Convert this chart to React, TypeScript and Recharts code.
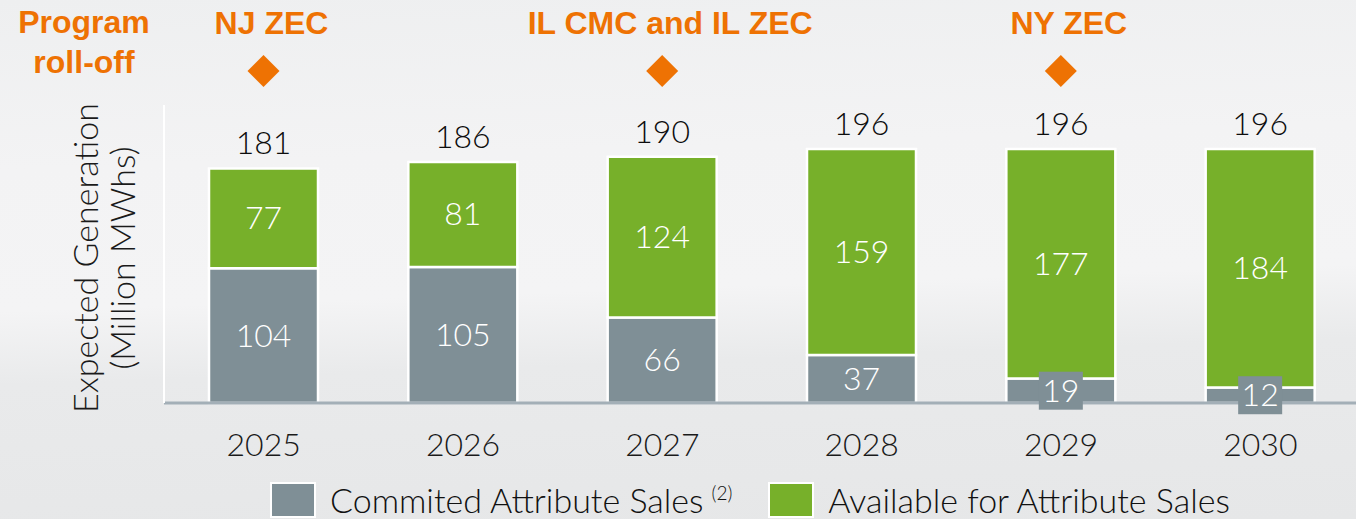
import { BarChart, Bar, XAxis, YAxis, LabelList } from "recharts";

const years = ["2025", "2026", "2027", "2028", "2029", "2030"];
const committed = [104, 105, 66, 37, 19, 12];
const available = [77, 81, 124, 159, 177, 184];
const programs = ["NJ ZEC", "", "IL CMC and IL ZEC", "", "NY ZEC", ""];

const GRAY = "#7f8f96";
const GREEN = "#77b02a";
const ORANGE = "#ee7203";
const FONT = "Lato, 'Open Sans', sans-serif";

const data = years.map((year, i) => ({
  year,
  committed: committed[i],
  available: available[i],
}));

function InsideLabel(props: any) {
  const { x, y, width, height, value } = props;
  const cx = x + width / 2;
  const cy = y + height / 2;
  const small = height < 40;
  return (
    <g>
      {small && (
        <rect x={cx - 22} y={cy - 19} width={44} height={38} fill={GRAY} />
      )}
      <text
        x={cx}
        y={cy + 11}
        textAnchor="middle"
        fill="#ffffff"
        fontSize={32}
        fontWeight={300}
        fontFamily={FONT}
      >
        {value}
      </text>
    </g>
  );
}

function TotalLabel(props: any) {
  const { x, y, width, index } = props;
  const total = committed[index] + available[index];
  return (
    <text
      x={x + width / 2}
      y={y - 14}
      textAnchor="middle"
      fill="#0d0d0d"
      fontSize={32}
      fontWeight={300}
      fontFamily={FONT}
    >
      {total}
    </text>
  );
}

function ProgramLabel(props: any) {
  const { x, width, index } = props;
  const name = programs[index];
  if (!name) return null;
  const cx = x + width / 2;
  return (
    <g>
      <text
        x={cx + 8}
        y={34}
        textAnchor="middle"
        fill={ORANGE}
        fontSize={32}
        fontWeight={700}
        fontFamily="'Liberation Sans', Arial, sans-serif"
      >
        {name}
      </text>
      <polygon
        points={`${cx},${55} ${cx + 16},${71} ${cx},${87} ${cx - 16},${71}`}
        fill={ORANGE}
      />
    </g>
  );
}

function YearTick(props: any) {
  const { x, payload } = props;
  return (
    <text
      x={x}
      y={456}
      textAnchor="middle"
      fill="#1a1a1a"
      fontSize={32}
      fontWeight={300}
      fontFamily={FONT}
    >
      {payload.value}
    </text>
  );
}

function YLabel(props: any) {
  const cy = props.viewBox ? props.viewBox.y + props.viewBox.height / 2 + 4 : 258;
  return (
    <g fill="#1a1a1a" fontSize={34} fontWeight={300} fontFamily={FONT}>
      <text x={84} y={cy} textAnchor="middle" dominantBaseline="central" transform={`rotate(-90 84 ${cy})`}>
        Expected Generation
      </text>
      <text x={121} y={cy} textAnchor="middle" dominantBaseline="central" transform={`rotate(-90 121 ${cy})`}>
        (Million MWhs)
      </text>
    </g>
  );
}

function LegendItem({ color, label, sup, gap }: { color: string; label: string; sup?: string; gap: number }) {
  return (
    <div style={{ display: "flex", alignItems: "center", marginRight: gap }}>
      <div
        style={{
          width: 42,
          height: 32,
          background: color,
          border: "2px solid #ffffff",
          marginRight: 14,
        }}
      />
      <span
        style={{
          fontSize: 34,
          lineHeight: "34px",
          fontWeight: 300,
          color: "#111111",
          fontFamily: FONT,
          whiteSpace: "nowrap",
        }}
      >
        {label}
        {sup && (
          <sup style={{ fontSize: 19, marginLeft: 8, verticalAlign: "13px", lineHeight: "19px" }}>
            {sup}
          </sup>
        )}
      </span>
    </div>
  );
}

export default function App() {
  return (
    <div
      style={{
        position: "fixed",
        left: 0,
        top: 0,
        width: 1356,
        height: 519,
        overflow: "hidden",
        background:
          "linear-gradient(178deg, #eeeff0 0%, #f3f3f4 30%, #f4f4f5 55%, #e9eaeb 68%, #e6e7e8 100%)",
      }}
    >
      <div
        style={{
          position: "absolute",
          left: 16,
          top: 2,
          width: 136,
          textAlign: "center",
          color: ORANGE,
          fontSize: 32,
          fontWeight: 700,
          lineHeight: "40px",
          fontFamily: "'Liberation Sans', Arial, sans-serif",
        }}
      >
        Program
        <br />
        roll-off
      </div>
      <BarChart
        width={1370}
        height={519}
        data={data}
        margin={{ top: 105, right: 10, left: 0, bottom: 56 }}
        barSize={109}
      >
        <XAxis
          dataKey="year"
          axisLine={{ stroke: "#a3afb7", strokeWidth: 3 }}
          tickLine={false}
          tick={<YearTick />}
          height={60}
        />
        <YAxis
          domain={[0, 230]}
          ticks={[]}
          tick={false}
          tickLine={false}
          axisLine={{ stroke: "#ffffff", strokeWidth: 2 }}
          width={164}
          label={<YLabel />}
        />
        <Bar
          dataKey="committed"
          stackId="a"
          fill={GRAY}
          stroke="#ffffff"
          strokeWidth={2.5}
          isAnimationActive={false}
        >
          <LabelList dataKey="committed" content={<InsideLabel />} />
        </Bar>
        <Bar
          dataKey="available"
          stackId="a"
          fill={GREEN}
          stroke="#ffffff"
          strokeWidth={2.5}
          isAnimationActive={false}
        >
          <LabelList dataKey="available" content={<InsideLabel />} />
          <LabelList dataKey="available" content={<TotalLabel />} />
          <LabelList dataKey="available" content={<ProgramLabel />} />
        </Bar>
      </BarChart>
      <div
        style={{
          position: "absolute",
          left: 270,
          top: 482,
          height: 36,
          display: "flex",
          alignItems: "center",
        }}
      >
        <LegendItem color={GRAY} label="Commited Attribute Sales" sup="(2)" gap={36} />
        <LegendItem color={GREEN} label="Available for Attribute Sales" gap={0} />
      </div>
    </div>
  );
}
